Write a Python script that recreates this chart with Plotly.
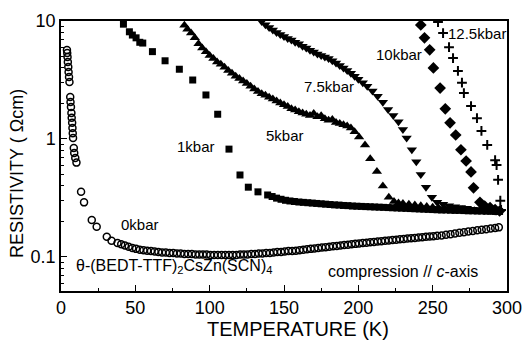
import math
import plotly.graph_objects as go

# ---- resistivity vs temperature, theta-(BEDT-TTF)2CsZn(SCN)4 under uniaxial pressure ----

# 0 kbar (open circles)
t_0kbar = [4.0, 4.2, 4.4, 4.6, 4.9, 5.1, 5.4, 5.7, 6.2, 6.4, 6.7, 7.0, 7.2, 7.5, 7.7, 7.9, 8.1, 8.6, 8.9, 9.6, 10.4,
           13.5, 15.5, 20.7, 24.0, 30.8, 34.0, 38.0, 40.5, 43.0, 45.5, 48.0, 50.5, 53.0, 55.5, 58.0, 60.5, 63.0,
           65.5, 68.0, 70.5, 73.0, 75.5, 78.0, 80.5, 83.0, 85.5, 88.0, 90.5, 93.0, 95.5, 98.0, 100.5, 103.0,
           105.5, 108.0, 110.5, 113.0, 115.5, 118.0, 120.5, 123.0, 125.5, 128.0, 130.5, 133.0, 135.5, 138.0,
           140.5, 143.0, 145.5, 148.0, 150.5, 153.0, 155.5, 158.0, 160.5, 163.0, 165.5, 168.0, 170.5, 173.0,
           175.5, 178.0, 180.5, 183.0, 185.5, 188.0, 190.5, 193.0, 195.5, 198.0, 200.5, 203.0, 205.5, 208.0,
           210.5, 213.0, 215.5, 218.0, 220.5, 223.0, 225.5, 228.0, 230.5, 233.0, 235.5, 238.0, 240.5, 243.0,
           245.5, 248.0, 250.5, 253.0, 256.0, 259.0, 262.0, 265.0, 268.0, 271.0, 274.0, 277.0, 280.0, 283.0,
           286.0, 289.0, 292.0, 294.5]
rho_0kbar = [5.68, 5.36, 4.96, 4.50, 4.08, 3.70, 3.35, 3.04, 2.27, 2.06, 1.87, 1.66, 1.51, 1.37, 1.24, 1.12, 1.02,
             0.84, 0.76, 0.69, 0.63,
             0.356, 0.29, 0.206, 0.18, 0.148, 0.137, 0.131, 0.128, 0.125, 0.122, 0.119, 0.117, 0.115, 0.114,
             0.113, 0.112, 0.111, 0.110, 0.109, 0.109, 0.108, 0.108, 0.107, 0.107, 0.106, 0.106, 0.106, 0.105,
             0.105, 0.105, 0.105, 0.104, 0.104, 0.104, 0.104, 0.104, 0.104, 0.104, 0.104, 0.105, 0.105, 0.105,
             0.106, 0.106, 0.107, 0.107, 0.108, 0.108, 0.109, 0.110, 0.110, 0.111, 0.112, 0.112, 0.113, 0.114,
             0.115, 0.116, 0.117, 0.118, 0.119, 0.120, 0.121, 0.122, 0.123, 0.124, 0.125, 0.126, 0.127, 0.128,
             0.129, 0.130, 0.131, 0.132, 0.133, 0.134, 0.135, 0.136, 0.137, 0.138, 0.139, 0.140, 0.141, 0.142,
             0.143, 0.144, 0.145, 0.146, 0.147, 0.148, 0.149, 0.150, 0.151, 0.152, 0.154, 0.156, 0.158, 0.160,
             0.162, 0.164, 0.166, 0.168, 0.170, 0.172, 0.174, 0.176, 0.178, 0.179]

# 1 kbar (filled squares)
t_1kbar = [42.0, 46.0, 48.0, 50.5, 53.0, 55.0, 61.5, 70.0, 79.6, 88.6, 97.5, 105.4, 113.0, 120.4, 126.0, 132.5,
           139.0, 142.0, 145.0, 148.0, 151.0, 154.0, 157.0, 160.0, 163.0, 166.0, 169.0, 172.0, 175.0, 178.0,
           181.0, 184.0, 187.0, 190.0, 193.0, 196.0, 199.0, 202.0, 205.0, 208.0, 211.0, 214.0, 217.0, 220.0,
           223.0, 226.0, 229.0, 232.0, 235.0, 238.0, 241.0, 244.0, 247.0, 250.0, 253.0, 256.0, 259.0, 262.0,
           265.0, 268.0, 271.0, 274.0, 277.0, 280.0, 283.0, 286.0, 289.0, 292.0, 295.0]
rho_1kbar = [9.4, 8.1, 7.6, 7.2, 6.6, 6.5, 5.5, 4.6, 3.9, 3.16, 2.36, 1.62, 0.82, 0.495, 0.39, 0.356,
             0.335, 0.325, 0.315, 0.308, 0.302, 0.298, 0.295, 0.292, 0.290, 0.288, 0.286, 0.284, 0.282, 0.280,
             0.278, 0.276, 0.275, 0.273, 0.272, 0.270, 0.269, 0.268, 0.267, 0.266, 0.265, 0.264, 0.263, 0.262,
             0.261, 0.260, 0.259, 0.258, 0.257, 0.256, 0.255, 0.254, 0.253, 0.252, 0.251, 0.250, 0.250, 0.249,
             0.248, 0.248, 0.247, 0.246, 0.246, 0.245, 0.245, 0.244, 0.244, 0.243, 0.243]

# 5 kbar (filled up-triangles)
t_5kbar = [83.0, 85.0, 87.5, 90.0, 92.5, 95.0, 97.5, 100.0, 102.5, 105.0, 107.5, 110.0, 112.5, 115.0, 117.5,
           120.0, 122.5, 125.0, 127.5, 130.0, 132.5, 135.0, 137.5, 140.0, 142.5, 145.0, 147.5, 150.0, 152.5,
           155.0, 157.5, 160.0, 162.5, 165.0, 167.5, 170.0, 172.5, 175.0, 177.5, 180.0, 182.5, 185.0, 187.5,
           190.0, 192.5, 195.0, 197.5, 200.5, 204.5, 208.0, 212.5, 216.5, 220.5, 224.0, 227.0, 230.0, 234.0,
           238.0, 242.0, 246.0, 250.0, 254.0, 258.0, 262.0, 266.0, 270.0, 274.0, 278.0, 282.0, 286.0, 290.0,
           294.0]
rho_5kbar = [9.2, 8.5, 7.9, 7.2, 6.4, 5.9, 5.5, 5.1, 4.8, 4.5, 4.3, 4.05, 3.8, 3.6, 3.4,
             3.25, 3.1, 2.95, 2.8, 2.65, 2.52, 2.42, 2.35, 2.26, 2.18, 2.10, 2.02, 1.95, 1.88,
             1.80, 1.76, 1.70, 1.66, 1.62, 1.58, 1.64, 1.54, 1.57, 1.48, 1.44, 1.46, 1.38, 1.35,
             1.32, 1.29, 1.24, 1.15, 1.04, 0.89, 0.68, 0.53, 0.40, 0.32, 0.295, 0.287, 0.283, 0.279,
             0.275, 0.271, 0.267, 0.263, 0.260, 0.257, 0.254, 0.252, 0.250, 0.248, 0.246, 0.245, 0.244, 0.243,
             0.242]

# 7.5 kbar (filled down-triangles)
t_7p5kbar = [135.0, 137.5, 140.0, 142.5, 145.0, 147.5, 150.0, 152.5, 155.0, 157.5, 160.0, 162.5, 165.0, 167.5,
             170.0, 172.5, 175.0, 177.5, 180.0, 182.5, 185.0, 187.5, 190.0, 192.5, 195.0, 197.5, 200.0, 203.0,
             206.0, 209.5, 213.0, 216.5, 220.0, 223.5, 227.0, 230.0, 232.5, 236.0, 239.0, 242.0, 245.5, 249.5,
             253.0, 257.0, 261.0, 265.0, 269.0, 273.0, 277.0, 281.0, 285.0, 289.0, 293.0]
rho_7p5kbar = [9.9, 9.3, 8.8, 8.4, 8.0, 7.7, 7.4, 7.1, 6.9, 6.6, 6.4, 6.1, 5.9, 5.65,
               5.45, 5.25, 5.1, 4.95, 4.8, 4.6, 4.4, 4.2, 4.0, 3.8, 3.6, 3.4, 3.2, 3.0,
               2.8, 2.55, 2.3, 2.05, 1.78, 1.58, 1.40, 1.20, 1.02, 0.81, 0.64, 0.50, 0.39, 0.32,
               0.29, 0.28, 0.272, 0.266, 0.262, 0.258, 0.254, 0.251, 0.249, 0.247, 0.245]

# 10 kbar (filled diamonds)
t_10kbar = [242.0, 244.5, 248.0, 250.5, 255.0, 258.5, 261.7, 265.5, 269.0, 272.5, 275.8, 277.5, 281.8, 285.0,
            288.6, 292.0, 295.0]
rho_10kbar = [9.25, 7.2, 5.7, 4.0, 2.7, 1.8, 1.37, 1.08, 0.81, 0.65, 0.525, 0.385, 0.29, 0.27,
              0.262, 0.252, 0.245]

# 12.5 kbar (crosses)
t_12p5kbar = [253.6, 257.0, 261.0, 263.7, 267.0, 269.7, 271.0, 275.8, 279.8, 282.8, 286.7, 292.0, 293.0, 294.0,
              295.5, 296.0]
rho_12p5kbar = [9.8, 7.9, 6.0, 4.85, 3.77, 3.0, 2.45, 1.9, 1.5, 1.17, 0.89, 0.66, 0.60, 0.45,
                0.30, 0.25]

x_ticks = [0, 50, 100, 150, 200, 250, 300]
x_minor = [25, 75, 125, 175, 225, 275]
y_ticks = [0.1, 1, 10]
y_tick_text = ["0.1", "1", "10"]
y_minor = [0.06, 0.07, 0.08, 0.09, 0.2, 0.3, 0.4, 0.5, 0.6, 0.7, 0.8, 0.9, 2, 3, 4, 5, 6, 7, 8, 9]

# curve labels: (text, temperature, resistivity)
curve_labels = [
    ("0kbar", 53.0, 0.19),
    ("1kbar", 91.0, 0.855),
    ("5kbar", 150.7, 1.08),
    ("7.5kbar", 180.3, 2.76),
    ("10kbar", 227.3, 5.15),
    ("12.5kbar", 279.5, 7.9),
]

FONT = "Arial, Liberation Sans, sans-serif"
BLACK = "black"

fig = go.Figure()

series = [
    (t_0kbar, rho_0kbar, "circle-open", 7, 1.5),
    (t_1kbar, rho_1kbar, "square", 7, 0),
    (t_5kbar, rho_5kbar, "triangle-up", 9, 0),
    (t_7p5kbar, rho_7p5kbar, "triangle-down", 9, 0),
    (t_10kbar, rho_10kbar, "diamond", 9, 0),
    (t_12p5kbar, rho_12p5kbar, "cross-thin", 7, 2),
]
for t, r, sym, size, lw in series:
    fig.add_trace(go.Scatter(
        x=t, y=r, mode="markers",
        marker=dict(symbol=sym, size=size, color=BLACK,
                    line=dict(color=BLACK, width=lw)),
        showlegend=False,
    ))

for text, tx, ry in curve_labels:
    fig.add_annotation(x=tx, y=math.log10(ry), xref="x", yref="y", text=text,
                       showarrow=False, font=dict(family=FONT, size=15, color=BLACK))

fig.add_annotation(x=8.7, y=math.log10(0.0822), xref="x", yref="y", xanchor="left",
                   text="θ-(BEDT-TTF)<sub>2</sub>CsZn(SCN)<sub>4</sub>",
                   showarrow=False, font=dict(family=FONT, size=16, color=BLACK))
fig.add_annotation(x=282, y=math.log10(0.0746), xref="x", yref="y", xanchor="right",
                   text="compression // <i>c</i>-axis",
                   showarrow=False, font=dict(family=FONT, size=16, color=BLACK))

# axis titles, placed relative to the plotting area
fig.add_annotation(x=(298 - 61) / 446, y=(291 - 328.5) / 270, xref="paper", yref="paper",
                   xanchor="center", yanchor="middle",
                   text="TEMPERATURE (K)", showarrow=False,
                   font=dict(family=FONT, size=20, color=BLACK))
fig.add_annotation(x=(17 - 61) / 446, y=(291 - 174) / 270, xref="paper", yref="paper",
                   xanchor="center", yanchor="middle",
                   text="RESISTIVITY ( Ωcm)", textangle=-90, showarrow=False,
                   font=dict(family=FONT, size=18, color=BLACK))

fig.update_layout(
    width=523, height=344,
    margin=dict(l=61, r=16, t=21, b=53),
    paper_bgcolor="white", plot_bgcolor="white",
    font=dict(family=FONT, color=BLACK),
    xaxis=dict(
        range=[0, 300], tickvals=x_ticks, ticks="inside", ticklen=6, tickwidth=1.2,
        tickcolor=BLACK, showline=True, linecolor=BLACK, linewidth=1.5, mirror=True,
        showgrid=False, zeroline=False, tickfont=dict(size=18, family=FONT),
        automargin=False,
        minor=dict(tickvals=x_minor, ticks="inside", ticklen=3,
                   tickwidth=1.2, tickcolor=BLACK, showgrid=False),
    ),
    yaxis=dict(
        type="log", range=[-1.289, 1.0], tickvals=y_ticks, ticktext=y_tick_text,
        ticks="inside", ticklen=6, tickwidth=1.2, tickcolor=BLACK,
        showline=True, linecolor=BLACK, linewidth=1.5, mirror=True,
        showgrid=False, zeroline=False, tickfont=dict(size=18, family=FONT),
        automargin=False,
        minor=dict(tickvals=y_minor, ticks="inside", ticklen=3, tickwidth=1.2,
                   tickcolor=BLACK, showgrid=False),
    ),
)

fig.write_html("out.html")
